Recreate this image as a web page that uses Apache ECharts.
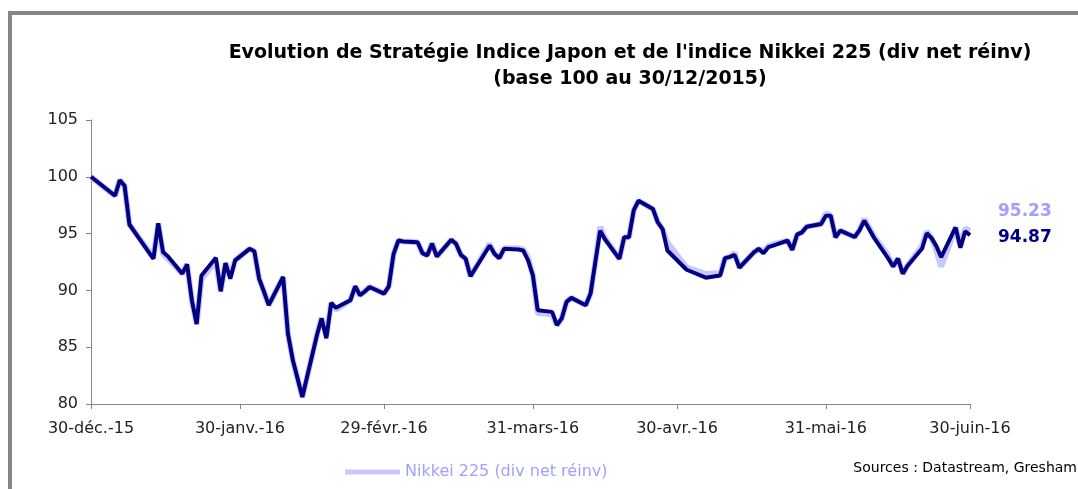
<!DOCTYPE html>
<html>
<head>
<meta charset="utf-8">
<script src="https://cdn.jsdelivr.net/npm/echarts@6/dist/echarts.min.js"></script>
<style>html,body{margin:0;padding:0;background:#fff}#c{width:1078px;height:489px}</style>
</head>
<body>
<div id="c"></div>
<script>
const dates = ['2015-12-30','2016-01-04','2016-01-05','2016-01-06','2016-01-07','2016-01-08','2016-01-12','2016-01-13','2016-01-14','2016-01-15',
'2016-01-18','2016-01-19','2016-01-20','2016-01-21','2016-01-22','2016-01-25','2016-01-26','2016-01-27','2016-01-28','2016-01-29',
'2016-02-01','2016-02-02','2016-02-03','2016-02-04','2016-02-05','2016-02-08','2016-02-09','2016-02-10','2016-02-12','2016-02-15',
'2016-02-16','2016-02-17','2016-02-18','2016-02-19','2016-02-22','2016-02-23','2016-02-24','2016-02-25','2016-02-26','2016-02-29',
'2016-03-01','2016-03-02','2016-03-03','2016-03-04','2016-03-07','2016-03-08','2016-03-09','2016-03-10','2016-03-11','2016-03-14',
'2016-03-15','2016-03-16','2016-03-17','2016-03-18','2016-03-22','2016-03-23','2016-03-24','2016-03-25','2016-03-28','2016-03-29',
'2016-03-30','2016-03-31','2016-04-01','2016-04-04','2016-04-05','2016-04-06','2016-04-07','2016-04-08','2016-04-11','2016-04-12',
'2016-04-13','2016-04-14','2016-04-15','2016-04-18','2016-04-19','2016-04-20','2016-04-21','2016-04-22','2016-04-25','2016-04-26',
'2016-04-27','2016-04-28','2016-05-02','2016-05-06','2016-05-09','2016-05-10','2016-05-11','2016-05-12','2016-05-13','2016-05-16',
'2016-05-17','2016-05-18','2016-05-19','2016-05-20','2016-05-23','2016-05-24','2016-05-25','2016-05-26','2016-05-27','2016-05-30',
'2016-05-31','2016-06-01','2016-06-02','2016-06-03','2016-06-06','2016-06-07','2016-06-08','2016-06-09','2016-06-10','2016-06-13',
'2016-06-14','2016-06-15','2016-06-16','2016-06-17','2016-06-20','2016-06-21','2016-06-22','2016-06-23','2016-06-24','2016-06-27',
'2016-06-28','2016-06-29','2016-06-30'];

const strategie = [100.00,98.33,99.70,99.20,95.80,95.20,92.78,95.90,93.37,93.00,
91.47,92.29,89.13,87.03,91.32,92.87,89.92,92.40,91.03,92.64,
93.66,93.45,91.03,89.90,88.70,91.18,86.20,83.90,80.61,86.00,
87.53,85.78,88.90,88.47,89.13,90.36,89.57,89.90,90.30,89.72,
90.36,93.22,94.39,94.30,94.24,93.28,93.07,94.10,92.98,94.45,
94.10,93.13,92.78,91.24,93.95,93.22,92.84,93.66,93.60,93.51,
92.64,91.32,88.26,88.11,86.94,87.53,88.99,89.34,88.70,89.72,
92.50,95.26,94.50,92.78,94.68,94.68,97.07,97.89,97.16,95.99,
95.40,93.51,91.82,91.12,91.32,92.84,92.95,93.13,92.00,93.35,
93.66,93.28,93.80,93.95,94.39,93.57,94.91,95.11,95.61,95.85,
96.58,96.58,94.68,95.26,94.70,95.30,96.14,95.41,94.65,92.80,
92.11,92.80,91.47,92.17,93.66,95.03,94.60,93.90,92.93,95.55,
93.75,95.20,94.87];

const nikkei = [100.00,98.33,99.70,99.20,95.80,95.20,92.90,95.90,93.20,92.80,
91.47,92.29,89.13,87.03,91.00,92.60,89.92,92.40,91.30,92.64,
93.66,93.45,91.03,89.90,88.70,91.18,86.20,83.90,80.61,86.00,
87.60,86.00,88.90,88.30,89.13,90.36,89.57,89.90,90.30,89.72,
90.36,93.22,94.39,94.30,94.24,93.28,93.07,94.20,92.98,94.45,
94.10,93.13,92.78,91.24,94.10,93.22,92.84,93.70,93.70,93.60,
92.90,91.32,88.00,87.90,86.94,87.53,88.99,89.34,88.70,89.72,
92.50,95.60,94.60,92.78,94.68,94.68,97.07,97.89,97.16,95.99,
95.40,94.20,92.00,91.45,91.50,92.84,92.95,93.30,92.00,93.35,
93.66,93.40,93.90,94.05,94.39,93.57,94.91,95.11,95.61,95.85,
96.80,96.58,94.68,95.26,94.70,95.30,96.30,95.50,94.80,93.00,
92.11,92.80,91.47,92.17,93.90,95.20,94.60,93.50,92.10,95.50,
93.90,95.45,95.23];

const tickDates = ['2015-12-30','2016-01-30','2016-02-29','2016-03-31','2016-04-30','2016-05-31','2016-06-30'];
const tickLabels = ['30-déc.-15','30-janv.-16','29-févr.-16','31-mars-16','30-avr.-16','31-mai-16','30-juin-16'];

function ts(s){const p=s.split('-').map(Number);return Date.UTC(p[0],p[1]-1,p[2]);}
const tickTs = tickDates.map(ts);

const chart = echarts.init(document.getElementById('c'));
const FONT = 'DejaVu Sans';
chart.setOption({
  animation:false,
  backgroundColor:'#fff',
  textStyle:{fontFamily:FONT},
  title:{
    text:"Evolution de Stratégie Indice Japon et de l'indice Nikkei 225 (div net réinv)\n(base 100 au 30/12/2015)",
    left:625, top:35, textAlign:'center',
    textStyle:{fontFamily:FONT,fontWeight:'bold',fontSize:19,color:'#000',lineHeight:26}
  },
  legend:{
    data:['Nikkei 225 (div net réinv)'],
    left:340, top:459, icon:'rect', itemWidth:55, itemHeight:5, itemGap:10,
    textStyle:{fontFamily:FONT,fontSize:16,color:'#a0a0ff'}
  },
  graphic:[
    {type:'rect',shape:{x:10,y:13,width:1100,height:520},style:{fill:'none',stroke:'#868686',lineWidth:4},silent:true,z:-1},
    {type:'text',right:1,top:461,style:{text:'Sources : Datastream, Gresham',font:'14px "DejaVu Sans"',fill:'#000'}}
  ],
  grid:{left:91,right:108,top:120,bottom:85,containLabel:false},
  xAxis:{
    type:'value', min:tickTs[0], max:tickTs[tickTs.length-1],
    axisLine:{lineStyle:{color:'#868686',width:1}},
    axisTick:{show:true,length:5,customValues:tickTs,lineStyle:{color:'#868686'}},
    axisLabel:{customValues:tickTs,margin:17,fontSize:16,color:'#222',fontFamily:FONT,
      formatter:function(v){const i=tickTs.indexOf(v);return i>=0?tickLabels[i]:'';}},
    splitLine:{show:false}
  },
  yAxis:{
    type:'value', min:80, max:105, interval:5,
    axisLine:{show:true,lineStyle:{color:'#868686',width:1}},
    axisTick:{show:true,length:5,lineStyle:{color:'#868686'}},
    axisLabel:{margin:13,fontSize:16,color:'#222',fontFamily:FONT},
    splitLine:{show:false}
  },
  series:[
    {name:'Nikkei 225 (div net réinv)',type:'line',showSymbol:false,
     data:dates.map((d,i)=>[ts(d),nikkei[i]]),
     lineStyle:{color:'#c8c8ff',width:6},itemStyle:{color:'#c8c8ff'},
     endLabel:{show:true,formatter:p=>p.value[1].toFixed(2),offset:[20,-19],
       fontFamily:FONT,fontWeight:'bold',fontSize:17,color:'#9f9fff'}},
    {name:'Stratégie Indice Japon',type:'line',showSymbol:false,
     data:dates.map((d,i)=>[ts(d),strategie[i]]),
     lineStyle:{color:'#000080',width:4},itemStyle:{color:'#000080'},
     endLabel:{show:true,formatter:p=>p.value[1].toFixed(2),offset:[20,3],
       fontFamily:FONT,fontWeight:'bold',fontSize:17,color:'#000080'}}
  ]
});
</script>
</body>
</html>
